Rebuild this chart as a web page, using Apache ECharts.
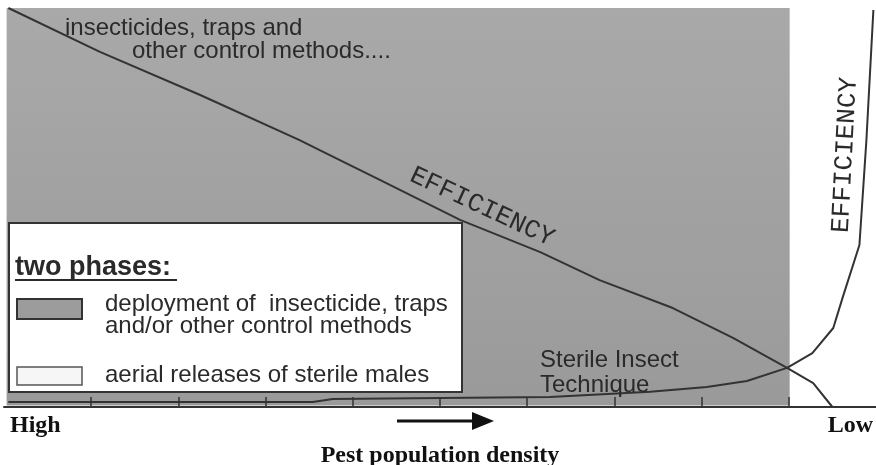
<!DOCTYPE html>
<html>
<head>
<meta charset="utf-8">
<script src="https://cdn.jsdelivr.net/npm/echarts@6/dist/echarts.min.js"></script>
<style>
  html, body { margin: 0; padding: 0; background: #fff; }
  #main { width: 876px; height: 465px; }
</style>
</head>
<body>
<div id="main"></div>
<script>
// density runs from High (0) to Low (10), efficiency 0..100
var tickValues = [1, 2, 3, 4, 5, 6, 7, 8, 9];
var controlX = [0.05, 1.10, 2.25, 3.39, 3.62, 4.31, 5.23, 6.15, 6.83, 7.67, 8.36, 8.98, 9.28, 9.50];
var controlY = [100, 89, 78.2, 66.9, 64.4, 56.9, 46.9, 38.8, 31.8, 24.8, 17.3, 9.8, 6.0, 0];
var sitX = [0.05, 3.54, 3.77, 6.26, 7.41, 8.06, 8.52, 8.98, 9.27, 9.51, 9.62, 9.81, 9.89, 9.97];
var sitY = [1.25, 1.25, 2.0, 2.5, 3.8, 5.0, 6.5, 9.8, 13.5, 19.8, 27.6, 40.6, 66.9, 99.5];
var phaseStart = 0.03;
var phaseEnd = 9.01;

function pairs(xs, ys) {
  return xs.map(function (x, i) { return [x, ys[i]]; });
}

var chart = echarts.init(document.getElementById('main'));
var sans = 'Liberation Sans';
var ink = '#2a2a2a';

chart.setOption({
  animation: false,
  backgroundColor: '#fff',
  grid: { left: 4, right: 0, top: 8, bottom: 58, containLabel: false, outerBoundsMode: 'none' },
  xAxis: {
    type: 'value', min: 0, max: 10, interval: 1, z: 6,
    name: 'Pest population density',
    nameLocation: 'middle', nameGap: 37,
    nameTextStyle: { fontFamily: 'Liberation Serif', fontWeight: 'bold', fontSize: 24, color: '#111' },
    axisLine: { lineStyle: { color: '#333', width: 2 } },
    axisTick: { inside: true, length: 10, customValues: tickValues, lineStyle: { color: '#333', width: 1.5 } },
    axisLabel: { show: false },
    splitLine: { show: false }
  },
  yAxis: {
    type: 'value', min: 0, max: 100,
    axisLine: { show: false }, axisTick: { show: false },
    axisLabel: { show: false }, splitLine: { show: false }
  },
  series: [
    {
      name: 'control', type: 'line', data: pairs(controlX, controlY),
      symbol: 'none', z: 3,
      lineStyle: { color: '#333', width: 2 },
      markArea: {
        silent: true,
        itemStyle: {
          color: new echarts.graphic.LinearGradient(0, 0, 0, 1, [
            { offset: 0, color: '#a9a9a9' },
            { offset: 1, color: '#9a9a9a' }
          ])
        },
        data: [[{ xAxis: phaseStart, yAxis: 0.4 }, { xAxis: phaseEnd, yAxis: 100 }]]
      }
    },
    {
      name: 'sit', type: 'line', data: pairs(sitX, sitY),
      symbol: 'none', z: 3,
      lineStyle: { color: '#333', width: 2 }
    }
  ],
  graphic: [
    { type: 'text', left: 65, top: 16, z: 10, style: { text: 'insecticides, traps and', font: '24px ' + sans, fill: ink } },
    { type: 'text', left: 132, top: 39, z: 10, style: { text: 'other control methods....', font: '24px ' + sans, fill: ink } },
    { type: 'text', x: 482, y: 207, rotation: -25 * Math.PI / 180, z: 10,
      style: { text: 'EFFICIENCY', font: '26px Liberation Mono', fill: ink, align: 'center', verticalAlign: 'middle' } },
    { type: 'text', x: 845, y: 155, rotation: 87 * Math.PI / 180, z: 10,
      style: { text: 'EFFICIENCY', font: '26px Liberation Mono', fill: ink, align: 'center', verticalAlign: 'middle' } },
    { type: 'text', left: 540, top: 348, z: 10, style: { text: 'Sterile Insect', font: '24px ' + sans, fill: ink } },
    { type: 'text', left: 540, top: 373, z: 10, style: { text: 'Technique', font: '24px ' + sans, fill: ink } },
    // legend box
    { type: 'rect', z: 20, shape: { x: 9, y: 223, width: 453, height: 169 },
      style: { fill: '#fff', stroke: '#333', lineWidth: 2 } },
    { type: 'text', left: 15, top: 254, z: 21, style: { text: 'two phases:', font: 'bold 27px ' + sans, fill: ink } },
    { type: 'line', z: 21, shape: { x1: 15, y1: 280, x2: 177, y2: 280 }, style: { stroke: ink, lineWidth: 2 } },
    { type: 'rect', z: 21, shape: { x: 17, y: 299, width: 65, height: 20 },
      style: { fill: '#9c9c9c', stroke: '#333', lineWidth: 2 } },
    { type: 'text', left: 105, top: 292, z: 21, style: { text: 'deployment of  insecticide, traps', font: '24px ' + sans, fill: ink } },
    { type: 'text', left: 105, top: 314, z: 21, style: { text: 'and/or other control methods', font: '24px ' + sans, fill: ink } },
    { type: 'rect', z: 21, shape: { x: 17, y: 367, width: 65, height: 18 },
      style: { fill: '#f6f6f6', stroke: '#555', lineWidth: 1.5 } },
    { type: 'text', left: 105, top: 363, z: 21, style: { text: 'aerial releases of sterile males', font: '24px ' + sans, fill: ink } },
    // bottom labels and arrow
    { type: 'text', left: 10, top: 414, z: 10, style: { text: 'High', font: 'bold 24px Liberation Serif', fill: '#111' } },
    { type: 'text', right: 3, top: 414, z: 10, style: { text: 'Low', font: 'bold 24px Liberation Serif', fill: '#111' } },
    { type: 'line', z: 10, shape: { x1: 397, y1: 421, x2: 476, y2: 421 }, style: { stroke: '#111', lineWidth: 3 } },
    { type: 'polygon', z: 10, shape: { points: [[472, 412], [494, 421], [472, 430]] }, style: { fill: '#111' } }
  ]
});
</script>
</body>
</html>
